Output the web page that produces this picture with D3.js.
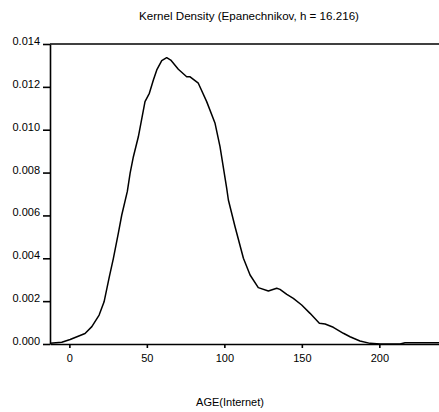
<!DOCTYPE html>
<html>
<head>
<meta charset="utf-8">
<script src="https://cdn.jsdelivr.net/npm/d3@7"></script>
<style>
  body { margin: 0; background: #fff; }
  text { font-family: "Liberation Sans", Arial, sans-serif; fill: #000; }
</style>
</head>
<body>
<div id="viz"></div>
<script>
'use strict';

// kernel density estimate
var ages = [-12.5, -4.9, 0.5, 10.1, 14.5, 19.2, 22.4, 25.8, 28.4, 31.6, 33.8, 37.4,
  39.2, 41.3, 44.5, 48.8, 51.6, 54.2, 56.4, 59.6, 62.8, 65.4, 70.3, 75.7, 77.9,
  83.2, 88.6, 94.0, 97.2, 101.5, 102.6, 106.9, 112.3, 116.6, 121.9, 128.4, 133.8,
  135.9, 140.3, 144.5, 149.9, 155.3, 161.3, 165.0, 170.3, 176.8, 181.1, 187.5,
  194.0, 200.5, 213.4, 216.6, 238.5];
var density = [0.00003, 0.00008, 0.00021, 0.00049, 0.00081, 0.00135, 0.00197,
  0.00314, 0.0040, 0.00517, 0.00602, 0.00712, 0.00797, 0.00874, 0.00967, 0.01131,
  0.0117, 0.01232, 0.01279, 0.01322, 0.01336, 0.01325, 0.01282, 0.01247, 0.01247,
  0.01217, 0.01131, 0.0103, 0.00921, 0.00727, 0.00672, 0.00547, 0.0040, 0.00322,
  0.00263, 0.00247, 0.0026, 0.00255, 0.00232, 0.00213, 0.00182, 0.00143, 0.00097,
  0.00093, 0.00078, 0.0005, 0.00034, 0.00014, 0.00003, 0, 0, 0.00006, 0.00006];
var xTicks = [0, 50, 100, 150, 200];
var yTicks = [0, 0.002, 0.004, 0.006, 0.008, 0.010, 0.012, 0.014];

var title = 'Kernel Density (Epanechnikov, h = 16.216)';
var xLabel = 'AGE(Internet)';

var width = 439, height = 412;
var plotLeft = 50, plotTop = 44, plotBottom = 344, plotRight = 439;

var svg = d3.select('#viz')
    .append('svg')
    .attr('width', width)
    .attr('height', height);

var x = d3.scaleLinear().domain([-12.5, 238.5]).range([plotLeft, plotRight]);
var y = d3.scaleLinear().domain([0, 0.014]).range([plotBottom, plotTop]);

// left axis
var yAxis = svg.append('g')
    .attr('transform', 'translate(' + plotLeft + ',0)')
    .call(d3.axisLeft(y).tickValues(yTicks).tickFormat(d3.format('.3f'))
      .tickSize(7).tickSizeOuter(0).tickPadding(3));
yAxis.selectAll('text').attr('dy', '0.05em').style('font-size', '11px');

// bottom axis
var xAxis = svg.append('g')
    .attr('transform', 'translate(0,' + plotBottom + ')')
    .call(d3.axisBottom(x).tickValues(xTicks).tickFormat(d3.format('d'))
      .tickSize(4).tickSizeOuter(0).tickPadding(6));
xAxis.selectAll('text').style('font-size', '11px');

svg.selectAll('.domain, .tick line')
    .style('stroke', '#000')
    .style('stroke-width', 1.6);

// top frame line
svg.append('line')
    .attr('x1', plotLeft).attr('x2', plotRight)
    .attr('y1', y(0.014)).attr('y2', y(0.014))
    .style('stroke', '#000')
    .style('stroke-width', 1.6);

var line = d3.line()
    .x(function(d, i) { return x(ages[i]); })
    .y(function(d) { return y(d); });

svg.append('path')
    .datum(density)
    .attr('d', line)
    .style('fill', 'none')
    .style('stroke', '#000')
    .style('stroke-width', 1.5)
    .style('stroke-linejoin', 'round');

svg.append('text')
    .attr('x', 249).attr('y', 20)
    .attr('text-anchor', 'middle')
    .style('font-size', '11.6px')
    .text(title);

svg.append('text')
    .attr('x', 230).attr('y', 406)
    .attr('text-anchor', 'middle')
    .style('font-size', '11px')
    .text(xLabel);
</script>
</body>
</html>
